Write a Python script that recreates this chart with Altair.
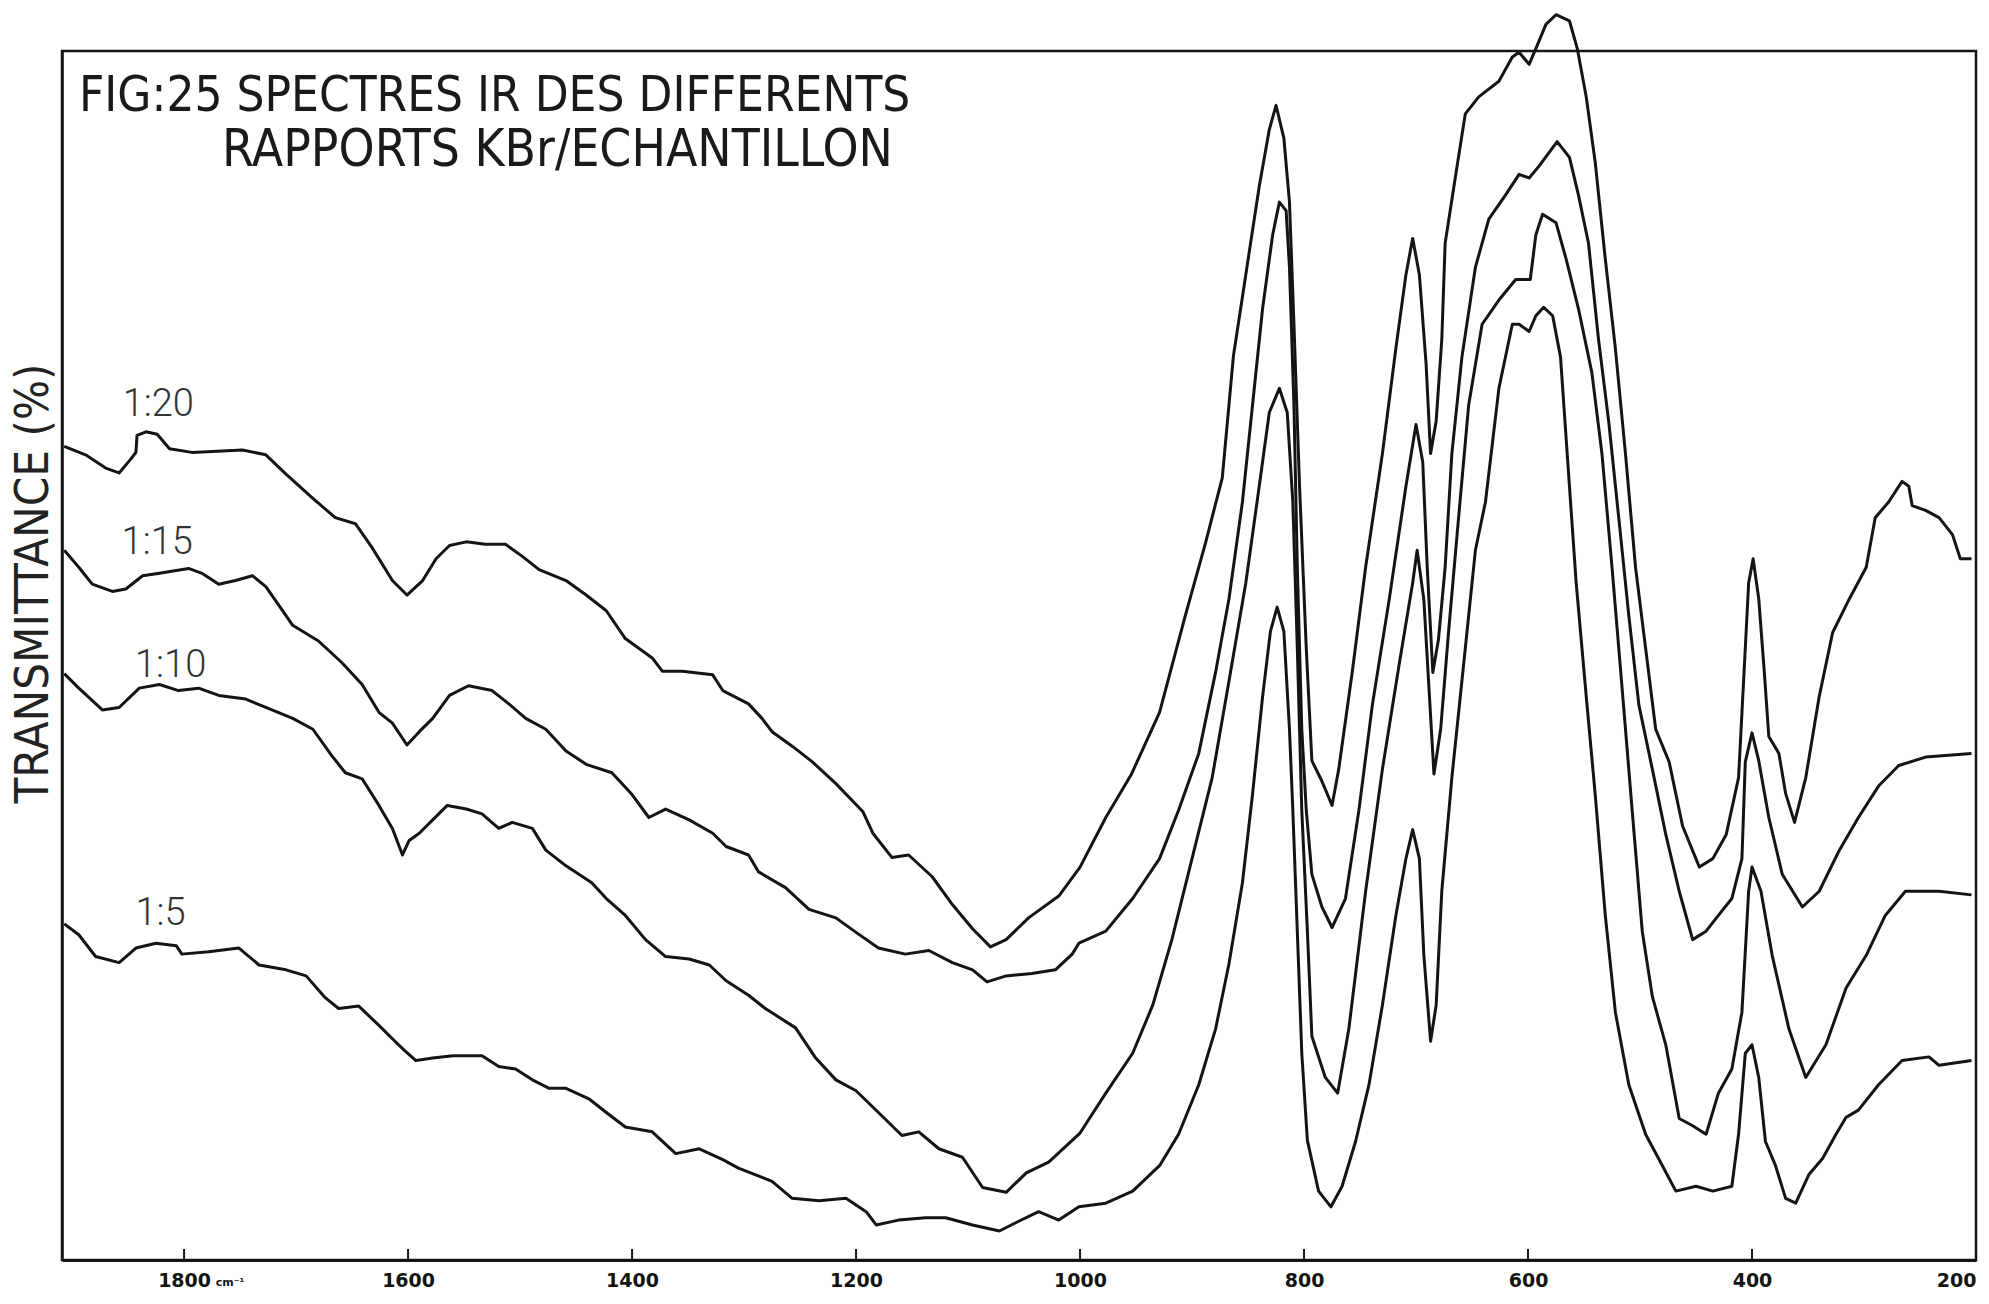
import altair as alt
import pandas as pd

# ---- data: (wavenumber cm-1, transmittance, arbitrary 0-100 scale) ----
RATIOS = ["1:20", "1:15", "1:10", "1:5"]

SPEC_1_20 = [(1907,67.3),(1888,66.6),(1870,65.5),(1858,65.1),(1848,66.2),(1843,66.8),(1842,68.2),(1834,68.5),
             (1824,68.3),(1813,67.1),(1793,66.8),(1748,67.0),(1727,66.6),(1709,65.0),(1685,63.0),(1665,61.4),
             (1647,60.9),(1632,58.9),(1614,56.2),(1601,55.0),(1587,56.2),(1575,58.0),(1563,59.1),(1548,59.4),
             (1531,59.2),(1513,59.2),(1498,58.2),(1483,57.1),(1459,56.2),(1441,55.0),(1423,53.7),(1406,51.4),
             (1382,49.8),(1373,48.7),(1355,48.7),(1328,48.4),(1319,47.1),(1296,46.0),(1284,44.8),(1275,43.7),
             (1257,42.5),(1239,41.2),(1218,39.4),(1194,37.1),(1185,35.3),(1168,33.3),(1153,33.5),(1132,31.7),
             (1114,29.4),(1096,27.4),(1080,25.9),(1066,26.5),(1046,28.3),(1019,30.1),(1000,32.5),(977,36.6),
             (954,40.2),(929,45.3),(906,53.3),(888,59.3),(873,64.7),(863,74.8),(852,81.5),(840,88.8),
             (831,93.5),(825,95.5),(818,92.8),(813,87.5),(809,77.4),(804,64.0),(798,50.6),(793,41.3),
             (784,39.6),(775,37.6),(769,40.6),(757,48.6),(745,57.3),(730,66.7),(718,75.4),(709,81.5),
             (703,84.5),(697,81.5),(691,74.1),(687,66.7),(682,69.4),(677,76.1),(674,84.1),(665,89.5),
             (656,94.8),(644,96.2),(626,97.5),(614,99.5),(608,99.9),(599,98.9),(593,100.2),(584,102.2),
             (575,103.0),(563,102.5),(556,100.2),(548,96.2),(540,90.8),(531,82.8),(522,75.4),(513,66.7),
             (504,57.3),(495,50.6),(486,43.9),(474,41.2),(462,35.9),(447,32.5),(435,33.2),(423,35.2),
             (412,39.9),(406,50.6),(403,56.0),(399,58.0),(394,54.7),(389,48.6),(385,43.3),(376,41.9),
             (370,38.6),(362,36.2),(352,39.9),(340,46.6),(328,51.9),(313,54.7),(298,57.3),(290,61.4),
             (278,62.7),(266,64.4),(260,64.0),(257,62.4),(245,62.0),(233,61.4),(221,60.0),(214,58.0),(204,58.0)]

SPEC_1_15 = [(1907,58.7),(1894,57.3),(1882,55.9),(1864,55.3),(1852,55.5),(1837,56.6),(1822,56.8),(1796,57.2),
             (1784,56.8),(1769,55.9),(1754,56.2),(1739,56.6),(1727,55.7),(1715,54.1),(1703,52.5),(1680,51.2),
             (1659,49.4),(1641,47.6),(1626,45.3),(1614,44.4),(1601,42.6),(1590,43.7),(1578,44.8),(1563,46.7),
             (1546,47.5),(1525,47.1),(1510,46.0),(1495,44.8),(1477,43.9),(1459,42.1),(1441,41.0),(1418,40.3),
             (1400,38.5),(1385,36.6),(1370,37.3),(1349,36.4),(1328,35.3),(1316,34.2),(1296,33.5),(1287,32.1),
             (1263,30.8),(1242,29.0),(1218,28.3),(1200,27.1),(1180,25.8),(1156,25.3),(1135,25.6),(1114,24.6),
             (1096,24.0),(1083,23.0),(1066,23.5),(1043,23.7),(1022,24.0),(1007,25.3),(1001,26.2),(977,27.2),
             (953,29.9),(929,33.2),(912,37.2),(894,41.9),(879,48.6),(867,54.7),(855,62.7),(846,70.7),
             (837,78.7),(828,84.8),(822,87.5),(816,86.8),(813,82.1),(809,70.7),(806,57.3),(802,43.9),
             (798,37.2),(793,31.9),(784,29.2),(775,27.5),(763,29.9),(751,37.2),(739,45.9),(724,54.6),
             (709,64.0),(700,69.1),(694,66.0),(690,57.3),(685,48.6),(680,51.3),(674,57.3),(668,66.7),
             (659,74.7),(647,82.1),(635,86.1),(620,88.1),(608,89.8),(599,89.5),(590,90.5),(574,92.5),
             (563,91.2),(555,88.1),(546,84.1),(537,76.1),(528,69.4),(519,61.4),(510,53.3),(501,45.9),
             (489,40.6),(477,35.2),(465,30.5),(453,26.5),(441,27.2),(430,28.5),(418,29.9),(409,33.2),
             (406,41.2),(400,43.6),(394,41.3),(385,36.6),(373,31.9),(355,29.2),(340,30.5),(322,33.9),
             (305,36.6),(287,39.2),(269,40.9),(245,41.6),(204,41.9)]

SPEC_1_10 = [(1907,48.5),(1894,47.3),(1873,45.5),(1858,45.7),(1840,47.3),(1822,47.6),(1805,47.1),(1787,47.3),
             (1769,46.7),(1745,46.4),(1727,45.7),(1703,44.8),(1685,43.9),(1668,41.7),(1656,40.3),(1641,39.8),
             (1626,37.6),(1614,35.7),(1605,33.5),(1599,34.7),(1590,35.3),(1578,36.4),(1565,37.6),(1548,37.3),
             (1534,36.9),(1519,35.7),(1507,36.2),(1489,35.7),(1477,33.9),(1459,32.6),(1436,31.2),(1423,29.9),
             (1406,28.5),(1388,26.5),(1370,25.1),(1349,24.9),(1331,24.4),(1316,23.1),(1296,21.9),(1281,20.8),
             (1254,19.2),(1236,16.7),(1218,14.9),(1200,14.0),(1180,12.2),(1159,10.3),(1144,10.6),(1126,9.2),
             (1105,8.5),(1087,6.0),(1066,5.6),(1048,7.2),(1028,8.1),(1007,9.9),(1000,10.5),(977,13.8),
             (953,17.1),(935,21.1),(918,26.5),(900,33.2),(882,39.9),(867,47.9),(852,56.0),(840,64.0),
             (831,70.1),(822,72.1),(815,70.1),(810,62.7),(806,50.6),(802,37.2),(797,27.2),(793,18.5),
             (781,15.1),(770,13.8),(760,19.1),(745,30.5),(730,40.6),(715,49.3),(703,56.0),(699,58.7),
             (693,54.6),(688,46.6),(684,40.2),(678,43.9),(671,51.9),(662,61.4),(653,70.7),(641,77.4),
             (626,79.4),(611,81.1),(598,81.1),(593,84.8),(587,86.5),(575,85.8),(566,82.8),(555,78.7),
             (543,73.4),(534,66.7),(525,57.3),(516,47.3),(507,37.2),(498,27.2),(489,21.8),(477,17.8),
             (465,11.7),(453,11.1),(441,10.4),(430,13.8),(418,15.8),(409,20.5),(403,30.5),(400,32.5),
             (392,30.5),(382,25.2),(367,19.1),(352,15.1),(334,17.8),(316,22.5),(298,25.2),(281,28.5),
             (263,30.5),(233,30.5),(204,30.2)]

SPEC_1_5 = [(1907,27.8),(1894,26.9),(1879,25.1),(1858,24.6),(1843,25.8),(1825,26.2),(1807,26.0),(1802,25.3),
            (1778,25.5),(1751,25.8),(1733,24.4),(1709,24.0),(1691,23.5),(1674,21.7),(1662,20.8),(1644,21.0),
            (1626,19.4),(1614,18.3),(1604,17.4),(1593,16.5),(1578,16.7),(1560,16.9),(1534,16.9),(1519,16.0),
            (1504,15.8),(1489,14.9),(1474,14.2),(1459,14.2),(1438,13.3),(1423,12.2),(1406,11.0),(1382,10.6),
            (1361,8.8),(1340,9.2),(1319,8.3),(1305,7.6),(1275,6.5),(1257,5.1),(1233,4.9),(1209,5.1),
            (1191,4.0),(1182,2.9),(1162,3.3),(1138,3.5),(1120,3.5),(1096,2.9),(1072,2.4),(1057,3.1),
            (1037,4.0),(1019,3.3),(1001,4.4),(977,4.7),(953,5.7),(929,7.8),(912,10.4),(894,14.5),
            (879,19.1),(867,24.5),(855,31.2),(846,38.5),(837,46.6),(830,52.0),(824,54.0),(818,52.0),
            (813,43.9),(810,37.2),(806,27.2),(802,17.1),(797,9.9),(787,5.7),(776,4.4),(766,6.1),
            (754,9.8),(742,14.5),(730,21.1),(718,28.5),(709,33.2),(703,35.6),(697,33.2),(693,25.2),
            (687,18.1),(682,21.1),(677,30.5),(668,39.9),(656,50.6),(647,58.7),(638,62.7),(626,72.1),
            (614,77.4),(608,77.4),(599,76.8),(593,78.1),(586,78.8),(578,78.1),(571,74.7),(563,64.0),
            (557,56.0),(548,46.6),(540,38.5),(531,28.5),(522,20.5),(510,14.5),(495,10.4),(480,7.8),
            (468,5.7),(450,6.1),(435,5.7),(418,6.1),(412,10.4),(406,17.1),(400,17.8),(394,15.1),
            (388,9.8),(379,7.8),(370,5.1),(361,4.7),(349,7.1),(337,8.4),(325,10.4),(316,11.8),
            (305,12.4),(287,14.5),(266,16.5),(242,16.8),(233,16.1),(204,16.5)]

X_TICKS = [1800, 1600, 1400, 1200, 1000, 800, 600, 400, 200]
LABEL_WN = [1823, 1824, 1812, 1821]
LABEL_T = [70.7, 59.3, 49.1, 28.6]
TITLE_LINES = ["FIG:25 SPECTRES IR DES DIFFERENTS", "RAPPORTS KBr/ECHANTILLON"]
Y_TITLE = "TRANSMITTANCE (%)"
UNIT = "cm\u207b\u00b9"

# ---- tables ----
rows = []
for r, spec in zip(RATIOS, [SPEC_1_20, SPEC_1_15, SPEC_1_10, SPEC_1_5]):
    for w, t in spec:
        rows.append({"ratio": r, "wn": w, "T": t})
df = pd.DataFrame(rows)
lab_df = pd.DataFrame({"ratio": RATIOS, "wn": LABEL_WN, "T": LABEL_T})
tick_df = pd.DataFrame({"wn": X_TICKS[:-1]})
unit_df = pd.DataFrame({"wn": [1800], "t": [UNIT]})

W, H = 1914, 1209
INK = "#141414"
TFONT = "'Liberation Sans Narrow', 'DejaVu Sans Condensed', 'Roboto Condensed', 'Liberation Sans', sans-serif"

xscale = alt.Scale(domain=[1909, 200], nice=False, zero=False)
yscale = alt.Scale(domain=[0, 100], nice=False, zero=False)

x_axis = alt.Axis(values=X_TICKS, format="d", title=None, grid=False, ticks=False,
                  labelFont="DejaVu Sans", labelFontSize=19, labelFontWeight="bold",
                  labelColor=INK, labelPadding=11, labelFlush=True,
                  domainColor=INK, domainWidth=3)
y_axis = alt.Axis(title=Y_TITLE, labels=False, ticks=False, grid=False,
                  domainColor=INK, domainWidth=2.5,
                  titleFont=TFONT, titleFontSize=47, titleFontWeight="normal",
                  titleColor="#222222", titleX=-5, titleY=532, titleAngle=270,
                  titleAlign="center", titleBaseline="bottom")

X = alt.X("wn:Q", scale=xscale, axis=x_axis)
Y = alt.Y("T:Q", scale=yscale, axis=y_axis)

lines = alt.Chart(df).mark_line(color=INK, strokeWidth=3, strokeJoin="round").encode(
    x=X, y=Y, detail="ratio:N")

labels = alt.Chart(lab_df).mark_text(font="Roboto", fontWeight=300, fontSize=38,
                                     color="#333333").encode(x=X, y=Y, text="ratio:N")

ticks = alt.Chart(tick_df).mark_rule(color=INK, strokeWidth=2).encode(
    x=X, y=alt.value(H), y2=alt.value(H - 11))

unit = alt.Chart(unit_df).mark_text(dx=46, fontSize=11, fontWeight="bold", font="DejaVu Sans",
                                    color=INK, baseline="middle").encode(
    x=X, y=alt.value(H + 23), text="t:N")

title1 = alt.Chart(pd.DataFrame({"t": [TITLE_LINES[0]]})).mark_text(
    align="left", baseline="middle", font=TFONT, fontSize=49, color="#1a1a1a").encode(
    x=alt.value(17), y=alt.value(45), text="t:N")
title2 = alt.Chart(pd.DataFrame({"t": [TITLE_LINES[1]]})).mark_text(
    align="left", baseline="middle", font=TFONT, fontSize=51, color="#1a1a1a").encode(
    x=alt.value(160), y=alt.value(100), text="t:N")

chart = alt.layer(lines, ticks, labels, unit, title1, title2).properties(
    width=W, height=H,
    autosize=alt.AutoSizeParams(type="none"),
    padding={"left": 62, "top": 51, "right": 13, "bottom": 44},
    background="white",
).configure_view(stroke=INK, strokeWidth=2.5)

chart.save("out.html", embed_options={"renderer": "svg", "actions": False})
